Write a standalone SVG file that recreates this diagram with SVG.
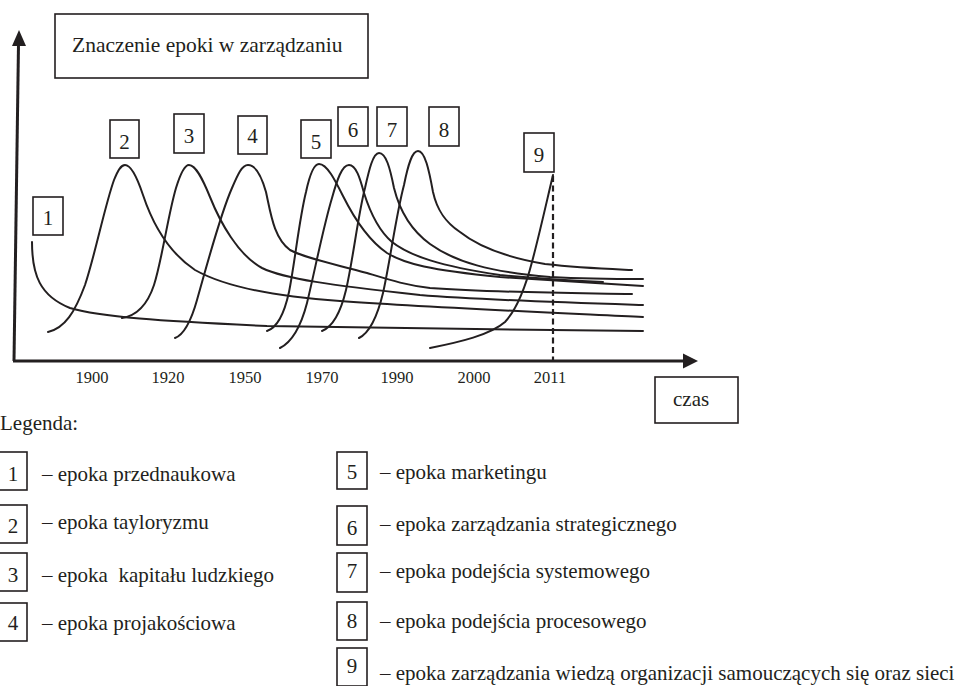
<svg xmlns="http://www.w3.org/2000/svg" width="974" height="686" viewBox="0 0 974 686">
<style>
text{font-family:"Liberation Serif","Times New Roman",serif;fill:#231f20;}
.t{font-size:21px;}
.n{font-size:21px;text-anchor:middle;}
.y{font-size:16.5px;text-anchor:middle;}
.box{fill:none;stroke:#231f20;stroke-width:1.6;}
.c{fill:none;stroke:#231f20;stroke-width:2;stroke-linecap:round;}
.ax{fill:none;stroke:#231f20;stroke-width:3;}
</style>
<rect width="974" height="686" fill="#fff"/>

<g id="axes">
<path class="ax" d="M14,361 L18.5,44"/>
<polygon points="19,30 12,46 26,46" fill="#231f20"/>
<path class="ax" d="M13,361 L686,361"/>
<polygon points="698,361 683,353.5 683,368.5" fill="#231f20"/>
<path d="M553,176 L553,360" fill="none" stroke="#231f20" stroke-width="2.2" stroke-dasharray="6,3.5"/>
</g>

<g id="year-labels">
<text class="y" x="92" y="383">1900</text>
<text class="y" x="168" y="383">1920</text>
<text class="y" x="245" y="383">1950</text>
<text class="y" x="322" y="383">1970</text>
<text class="y" x="397" y="383">1990</text>
<text class="y" x="474" y="383">2000</text>
<text class="y" x="550" y="383">2011</text>
</g>

<g id="title">
<rect class="box" x="55" y="14" width="313" height="64"/>
<text class="t" x="72" y="52" style="font-size:21.5px">Znaczenie epoki w zarządzaniu</text>
</g>

<g id="czas">
<rect class="box" x="655" y="377" width="83" height="46"/>
<text class="t" x="673" y="406">czas</text>
</g>

<g id="connectors">
<path id="curve-1" class="c" d="M32,242 C32,275 40,296 70,308 C100,317 160,321 267,326 C400,328 520,330 643,331"/>
<path id="curve-2" class="c" d="M48,332 C65,328 75,312 85,285 C95,255 105,205 114,180 C118,170 121,165 125,165 C131,165 137,177 143,195 C152,222 168,252 195,270 C220,284 265,296 340,301 C420,307 560,313 643,317"/>
<path id="curve-3" class="c" d="M122,318 C135,316 147,306 154,285 C162,260 168,215 176,188 C180,175 184,165 189,165 C196,165 203,180 210,197 C220,222 238,255 262,268 C285,279 330,285 420,295 C480,300 580,303 643,305"/>
<path id="curve-4" class="c" d="M175,338 C183,335 190,325 197,300 C207,265 220,215 232,188 C238,174 242,165 248,165 C256,165 262,178 266,192 C271,215 274,238 290,250 C305,258 330,263 367,273 C390,280 405,285 430,288 C500,293 580,293 632,294"/>
<path id="curve-5" class="c" d="M267,331 C276,328 284,315 289,292 C295,262 299,220 306,192 C309,178 313,164 319,164 C327,164 335,180 343,196 C355,220 368,240 387,253 C405,264 430,270 500,277 C560,281 610,284 643,286"/>
<path id="curve-6" class="c" d="M280,348 C290,343 300,330 307,303 C315,270 323,228 332,198 C337,180 342,165 349,165 C356,165 360,178 364,193 C370,212 378,230 392,242 C410,256 440,266 500,275 C540,279 580,281 603,282"/>
<path id="curve-7" class="c" d="M322,331 C332,327 340,315 346,290 C353,260 358,215 365,188 C369,170 373,153 379,153 C386,153 390,168 394,188 C399,208 408,228 430,244 C455,262 490,272 550,277 C590,279 620,279 643,279"/>
<path id="curve-8" class="c" d="M359,338 C369,333 377,318 383,293 C390,262 396,215 404,185 C408,165 412,151 418,151 C425,151 429,170 433,192 C437,210 445,222 460,232 C480,248 510,258 545,264 C580,268 610,269 632,270"/>
<path id="curve-9" class="c" d="M430,348 C460,342 490,335 505,322 C518,308 526,285 532,262 C540,232 547,200 553,175"/>
</g>

<g id="label-1"><rect class="box" x="33" y="197" width="30" height="38"/><text class="n" x="48" y="225">1</text></g>
<g id="label-2"><rect class="box" x="110" y="120" width="29" height="38"/><text class="n" x="124.5" y="149">2</text></g>
<g id="label-3"><rect class="box" x="174" y="114" width="30" height="39"/><text class="n" x="189" y="143">3</text></g>
<g id="label-4"><rect class="box" x="238" y="116" width="29" height="38"/><text class="n" x="252.5" y="143">4</text></g>
<g id="label-5"><rect class="box" x="301" y="120" width="30" height="38"/><text class="n" x="316" y="149">5</text></g>
<g id="label-6"><rect class="box" x="338" y="107" width="30" height="39"/><text class="n" x="353" y="137">6</text></g>
<g id="label-7"><rect class="box" x="377" y="107" width="30" height="39"/><text class="n" x="392" y="137">7</text></g>
<g id="label-8"><rect class="box" x="429" y="107" width="30" height="39"/><text class="n" x="444" y="137">8</text></g>
<g id="label-9"><rect class="box" x="524" y="133" width="30" height="39"/><text class="n" x="539" y="162">9</text></g>

<g id="legend">
<text class="t" x="0" y="430">Legenda:</text>
<g id="legend-1"><rect class="box" x="-3" y="452" width="30" height="38"/><text class="n" x="13" y="481">1</text><text class="t" x="42" y="481">– epoka przednaukowa</text></g>
<g id="legend-2"><rect class="box" x="-3" y="505" width="30" height="38"/><text class="n" x="13" y="533">2</text><text class="t" x="42" y="529">– epoka tayloryzmu</text></g>
<g id="legend-3"><rect class="box" x="-3" y="553" width="30" height="38"/><text class="n" x="13" y="582">3</text><text class="t" x="42" y="582" xml:space="preserve">– epoka  kapitału ludzkiego</text></g>
<g id="legend-4"><rect class="box" x="-3" y="603" width="30" height="38"/><text class="n" x="13" y="630">4</text><text class="t" x="42" y="630">– epoka projakościowa</text></g>
<g id="legend-5"><rect class="box" x="337" y="452" width="30" height="37"/><text class="n" x="352" y="479">5</text><text class="t" x="380" y="479">– epoka marketingu</text></g>
<g id="legend-6"><rect class="box" x="337" y="506" width="30" height="39"/><text class="n" x="352" y="535">6</text><text class="t" x="380" y="531">– epoka zarządzania strategicznego</text></g>
<g id="legend-7"><rect class="box" x="337" y="553" width="30" height="39"/><text class="n" x="352" y="578">7</text><text class="t" x="380" y="578">– epoka podejścia systemowego</text></g>
<g id="legend-8"><rect class="box" x="337" y="602" width="30" height="38"/><text class="n" x="352" y="628">8</text><text class="t" x="380" y="628">– epoka podejścia procesowego</text></g>
<g id="legend-9"><rect class="box" x="337" y="648" width="30" height="38"/><text class="n" x="352" y="673">9</text><text class="t" x="380" y="680">– epoka zarządzania wiedzą organizacji samouczących się oraz sieci</text></g>
</g>
</svg>
